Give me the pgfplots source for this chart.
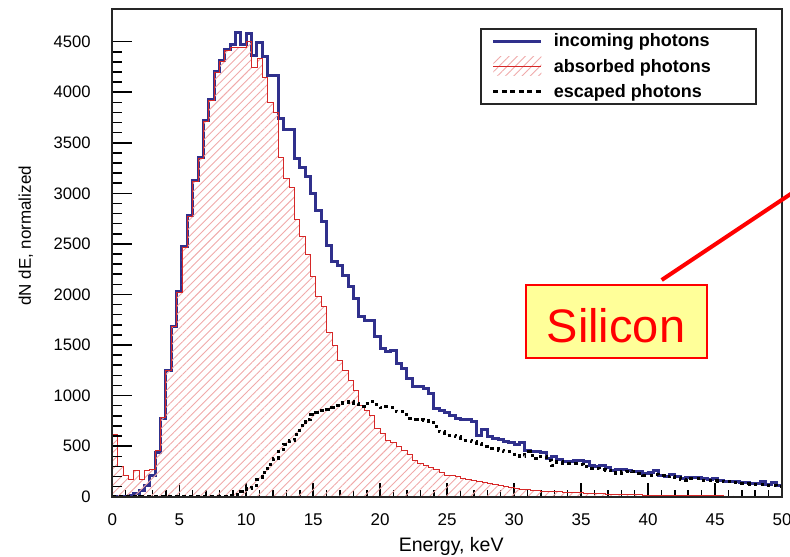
\documentclass[border=0pt]{standalone}
\usepackage{pgfplots}
\pgfplotsset{compat=1.18}
\usepackage{pgfplotstable}
\usetikzlibrary{patterns.meta}
\usepackage{fontspec}
\setmainfont{Liberation Sans}

\definecolor{incol}{RGB}{48,48,140}
\definecolor{abscol}{RGB}{214,40,40}
\definecolor{hatchcol}{RGB}{240,170,170}
\definecolor{notefill}{RGB}{255,255,153}

% energy spectra, 0.4 keV bins (left bin edge), last row closes the final bin
\pgfplotstableread{
E inc abs esc
0.0 0 620 0
0.4 0 300 0
0.8 5 215 0
1.2 12 175 0
1.6 27 255 0
2.0 66 175 0
2.4 106 255 0
2.8 205 265 0
3.2 435 455 0
3.6 774 785 0
4.0 1245 1250 0
4.4 1680 1680 0
4.8 2030 2020 0
5.2 2470 2460 0
5.6 2783 2775 0
6.0 3129 3120 0
6.4 3353 3345 0
6.8 3725 3715 0
7.2 3929 3920 0
7.6 4205 4200 0
8.0 4315 4300 0
8.4 4420 4410 0
8.8 4470 4440 10
9.2 4588 4445 25
9.6 4470 4445 50
10.0 4585 4505 80
10.4 4360 4245 110
10.8 4490 4335 170
11.2 4350 4150 240
11.6 4166 3903 320
12.0 4166 3804 380
12.4 3739 3359 450
12.8 3633 3146 520
13.2 3633 3063 560
13.6 3344 2741 620
14.0 3255 2569 700
14.4 3162 2398 760
14.8 2998 2174 810
15.2 2833 1983 830
15.6 2717 1884 850
16.0 2487 1620 860
16.4 2322 1499 880
16.8 2289 1350 900
17.2 2190 1252 935
17.6 2075 1146 940
18.0 1960 1054 920
18.4 1778 906 890
18.8 1746 857 925
19.2 1746 807 940
19.6 1581 676 910
20.0 1466 626 880
20.4 1433 560 890
20.8 1449 534 880
21.2 1318 494 840
21.6 1269 461 840
22.0 1170 420 775
22.4 1087 360 765
22.8 1087 330 765
23.2 1071 313 750
23.6 1022 290 730
24.0 873 265 692
24.4 850 240 642
24.8 830 215 610
25.2 800 210 610
25.6 770 200 593
26.0 760 185 560
26.4 760 170 560
26.8 745 160 545
27.2 605 150 527
27.6 665 140 494
28.0 600 135 478
28.4 580 125 478
28.8 565 115 461
29.2 550 105 444
29.6 540 95 444
30.0 515 83 420
30.4 533 75 400
30.8 461 70 444
31.2 444 66 412
31.6 444 60 379
32.0 440 55 402
32.4 375 52 360
32.8 395 50 313
33.2 363 48 346
33.6 350 45 330
34.0 346 42 330
34.4 356 40 330
34.8 356 38 323
35.2 350 35 300
35.6 313 32 281
36.0 303 30 281
36.4 313 28 270
36.8 290 27 264
37.2 260 25 240
37.6 270 24 231
38.0 270 22 247
38.4 257 21 250
38.8 250 20 247
39.2 247 18 231
39.6 225 17 214
40.0 240 16 214
40.4 257 15 220
40.8 214 14 205
41.2 204 13 198
41.6 224 12 204
42.0 198 12 191
42.4 182 11 171
42.8 191 10 165
43.2 191 10 182
43.6 191 9 182
44.0 178 9 165
44.4 171 8 165
44.8 178 8 161
45.2 165 8 155
45.6 155 7 148
46.0 155 7 148
46.4 148 6 138
46.8 138 6 132
47.2 145 6 132
47.6 132 5 125
48.0 132 5 125
48.4 148 5 125
48.8 125 5 115
49.2 138 4 115
49.6 115 4 105
50.0 115 4 105
}\spectra

\begin{document}
\begin{tikzpicture}
\path[use as bounding box] (0bp,0bp) rectangle (790bp,557bp);

% data axis, with the energy ticks along the bottom
\begin{axis}[
  at={(112.3bp,60.3bp)}, anchor=south west,
  scale only axis, width=669.7bp, height=487.4bp,
  xmin=0, xmax=50, ymin=0, ymax=4820,
  xtick={0,5,...,50}, minor x tick num=4,
  ytick=\empty,
  xtick pos=left, tick align=inside,
  major tick length=14bp, minor tick length=7bp,
  every tick/.style={black, line width=1.5bp},
  axis line style={black!85, line width=1.7bp},
  /pgf/number format/assume math mode=true,
  xticklabel style={anchor=north, inner sep=0pt, yshift=-16.6bp,
    font=\fontsize{17bp}{19bp}\selectfont},
  xlabel={Energy, keV},
  xlabel style={at={(axis description cs:0.506,-0.0835)}, anchor=north,
    inner sep=0pt, font=\fontsize{19.5bp}{22bp}\selectfont},
  legend style={at={(0.549,0.9616)}, anchor=north west,
    draw=black!85, line width=1.6bp, fill=white,
    inner xsep=11bp, inner ysep=5bp, column sep=11bp, row sep=8.5bp,
    font=\fontsize{18bp}{21bp}\selectfont\bfseries,
    nodes={inner sep=0pt}},
  legend cell align=left,
]
\addlegendimage{legend image code/.code={
  \draw[incol, line width=3bp] (0bp,0bp) -- (48bp,0bp);}}
\addlegendentry{\makebox[191bp][l]{incoming photons}}
\addlegendimage{legend image code/.code={
  \path[draw=none, pattern={Lines[angle=45,distance=5.8bp,line width=0.9bp]},
        pattern color=hatchcol] (0bp,-9.5bp) rectangle (48bp,9.5bp);
  \draw[abscol, line width=1bp] (0bp,0bp) -- (48bp,0bp);}}
\addlegendentry{\makebox[191bp][l]{absorbed photons}}
\addlegendimage{legend image code/.code={
  \draw[black, line width=3bp, dash pattern=on 5bp off 3.5bp] (0bp,0bp) -- (48bp,0bp);}}
\addlegendentry{\makebox[191bp][l]{escaped photons}}

\addplot[forget plot, const plot, incol, line width=3bp]
  table[x=E, y=inc] {\spectra};
\addplot[forget plot, const plot, draw=abscol, line width=0.9bp,
  pattern={Lines[angle=45,distance=5.8bp,line width=0.9bp]},
  pattern color=hatchcol]
  table[x=E, y=abs] {\spectra} \closedcycle;
\addplot[forget plot, const plot, black, line width=3bp,
  dash pattern=on 3.3bp off 3.7bp]
  table[x=E, y=esc] {\spectra};
\end{axis}

% counts scale on the left, with its longer ticks
\begin{axis}[
  at={(112.3bp,60.3bp)}, anchor=south west,
  scale only axis, width=669.7bp, height=487.4bp,
  xmin=0, xmax=50, ymin=0, ymax=4820,
  xtick=\empty,
  ytick={0,500,...,4500}, minor y tick num=4,
  ytick pos=left, tick align=inside,
  major tick length=20bp, minor tick length=10bp,
  every tick/.style={black, line width=1.5bp},
  axis line style={black!85, line width=1.7bp},
  /pgf/number format/assume math mode=true,
  /pgf/number format/1000 sep={},
  yticklabel shift=21.5bp,
  yticklabel style={anchor=east, inner sep=0pt,
    font=\fontsize{16.6bp}{19bp}\selectfont},
  ylabel={dN dE, normalized},
  ylabel style={at={(axis description cs:-0.129,0.535)}, anchor=center,
    inner sep=0pt, font=\fontsize{17bp}{19bp}\selectfont},
]
\end{axis}

% material tag
\draw[red, line width=4bp] (661.7bp,277bp) -- (800bp,369.2bp);
\node[draw=red, line width=2bp, fill=notefill, minimum width=181bp,
  minimum height=73bp, inner sep=0pt] at (616.5bp,235.5bp) {};
\node[text=red, inner sep=0pt, font=\fontsize{47bp}{50bp}\selectfont]
  at (616bp,231.4bp) {Silicon};
\end{tikzpicture}
\end{document}
